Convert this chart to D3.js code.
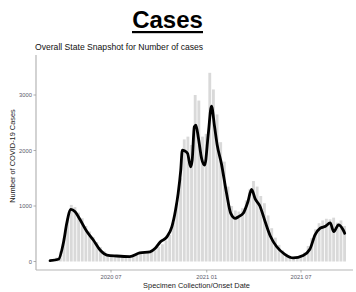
<!DOCTYPE html>
<html>
<head>
<meta charset="utf-8">
<script src="https://cdn.jsdelivr.net/npm/d3@7"></script>
<style>
html,body{margin:0;padding:0;background:#fff;}
svg{display:block;font-family:"Liberation Sans",Arial,sans-serif;}
</style>
</head>
<body>
<svg id="chart" width="356" height="292"></svg>
<script>
// ---- data ----
const titleText = "Cases";
const subtitleText = "Overall State Snapshot for Number of cases";
const xTitle = "Specimen Collection/Onset Date";
const yTitle = "Number of COVID-19 Cases";

const yTicks = [0, 1000, 2000, 3000];
const xTickDates = ["2020-07-01", "2021-01-01", "2021-07-01"];
const xTickLabels = ["2020 07", "2021 01", "2021 07"];

// weekly bars (week start, daily count)
const barWeeks = ["2020-03-02","2020-03-09","2020-03-16","2020-03-23","2020-03-30","2020-04-06","2020-04-13","2020-04-20","2020-04-27","2020-05-04","2020-05-11","2020-05-18","2020-05-25","2020-06-01","2020-06-08","2020-06-15","2020-06-22","2020-06-29","2020-07-06","2020-07-13","2020-07-20","2020-07-27","2020-08-03","2020-08-10","2020-08-17","2020-08-24","2020-08-31","2020-09-07","2020-09-14","2020-09-21","2020-09-28","2020-10-05","2020-10-12","2020-10-19","2020-10-26","2020-11-02","2020-11-09","2020-11-16","2020-11-23","2020-11-30","2020-12-07","2020-12-14","2020-12-21","2020-12-28","2021-01-04","2021-01-11","2021-01-18","2021-01-25","2021-02-01","2021-02-08","2021-02-15","2021-02-22","2021-03-01","2021-03-08","2021-03-15","2021-03-22","2021-03-29","2021-04-05","2021-04-12","2021-04-19","2021-04-26","2021-05-03","2021-05-10","2021-05-17","2021-05-24","2021-05-31","2021-06-07","2021-06-14","2021-06-21","2021-06-28","2021-07-05","2021-07-12","2021-07-19","2021-07-26","2021-08-02","2021-08-09","2021-08-16","2021-08-23","2021-08-30","2021-09-06","2021-09-13","2021-09-20"];
const barValues = [15,30,70,180,420,780,1020,980,880,780,640,540,440,350,260,190,140,120,115,110,105,100,100,110,130,160,180,190,200,230,260,310,380,480,700,1050,1500,2200,2250,2100,3000,2900,2250,2300,3400,3100,2650,2150,1800,1350,1000,920,900,960,1100,1300,1450,1350,1180,1050,830,600,430,300,200,140,100,85,85,105,160,280,420,580,690,740,770,760,790,700,740,640];

// 7-day average line
const lineDates = ["2020-03-06","2020-03-22","2020-04-01","2020-04-07","2020-04-15","2020-04-23","2020-05-03","2020-05-15","2020-05-28","2020-06-10","2020-06-23","2020-07-12","2020-08-06","2020-08-25","2020-09-14","2020-09-24","2020-10-04","2020-10-16","2020-10-26","2020-11-02","2020-11-07","2020-11-12","2020-11-15","2020-11-19","2020-11-25","2020-12-01","2020-12-04","2020-12-08","2020-12-11","2020-12-16","2020-12-22","2020-12-28","2021-01-04","2021-01-10","2021-01-16","2021-01-21","2021-01-29","2021-02-08","2021-02-16","2021-02-25","2021-03-03","2021-03-12","2021-03-21","2021-03-28","2021-04-04","2021-04-13","2021-04-23","2021-05-03","2021-05-15","2021-05-31","2021-06-16","2021-07-05","2021-07-18","2021-07-28","2021-08-07","2021-08-17","2021-08-26","2021-09-02","2021-09-11","2021-09-20","2021-09-23"];
const lineValues = [15,40,357,688,940,897,747,549,387,207,117,99,87,155,175,238,357,440,627,927,1228,1648,2008,1995,1948,1707,1828,2427,2458,2219,1858,1738,2309,2800,2427,2100,1768,1228,868,778,807,868,1077,1300,1130,1000,720,460,270,130,65,110,220,480,600,635,695,537,660,567,508];

// ---- drawing ----
const parse = d3.timeParse("%Y-%m-%d");
const svg = d3.select("#chart");

const x = d3.scaleTime()
  .domain([parse("2020-07-01"), parse("2021-07-01")])
  .range([111, 301]);
const y = d3.scaleLinear().domain([0, 3000]).range([261.5, 95]);

const panel = {left: 36, right: 353, top: 55, bottom: 270};

// title
svg.append("text")
  .attr("x", 167.5).attr("y", 28)
  .attr("text-anchor", "middle")
  .attr("font-size", 24).attr("font-weight", "bold")
  .attr("fill", "#000")
  .text(titleText);
svg.append("rect")
  .attr("x", 132).attr("y", 31).attr("width", 71).attr("height", 2.2)
  .attr("fill", "#000");

svg.append("text")
  .attr("x", 35).attr("y", 49.5)
  .attr("font-size", 8.6)
  .attr("fill", "#111")
  .text(subtitleText);

// bars
const bars = barWeeks.map((w, i) => ({d: parse(w), v: barValues[i]}));
svg.append("g").selectAll("rect").data(bars).join("rect")
  .attr("x", d => x(d.d))
  .attr("width", d => Math.max(0.5, x(d3.timeDay.offset(d.d, 7)) - x(d.d) - 0.8))
  .attr("y", d => y(d.v))
  .attr("height", d => y(0) - y(d.v))
  .attr("fill", "#d9d9d9");

// axes lines
svg.append("line")
  .attr("x1", panel.left).attr("x2", panel.left)
  .attr("y1", panel.top).attr("y2", panel.bottom)
  .attr("stroke", "#b5b5b5").attr("stroke-width", 1.2);
svg.append("line")
  .attr("x1", panel.left).attr("x2", panel.right)
  .attr("y1", panel.bottom).attr("y2", panel.bottom)
  .attr("stroke", "#b5b5b5").attr("stroke-width", 1.2);

// y ticks
const yAxis = svg.append("g");
yTicks.forEach(v => {
  yAxis.append("line")
    .attr("x1", panel.left - 2.5).attr("x2", panel.left)
    .attr("y1", y(v)).attr("y2", y(v))
    .attr("stroke", "#999").attr("stroke-width", 0.8);
  yAxis.append("text")
    .attr("x", panel.left - 4).attr("y", y(v) + 2)
    .attr("text-anchor", "end")
    .attr("font-size", 5.8).attr("fill", "#5a5a6a")
    .text(v);
});

// x ticks
const xAxis = svg.append("g");
xTickDates.forEach((ds, i) => {
  const px = x(parse(ds));
  xAxis.append("line")
    .attr("x1", px).attr("x2", px)
    .attr("y1", panel.bottom).attr("y2", panel.bottom + 2.5)
    .attr("stroke", "#999").attr("stroke-width", 0.8);
  xAxis.append("text")
    .attr("x", px).attr("y", panel.bottom + 9)
    .attr("text-anchor", "middle")
    .attr("font-size", 5.8).attr("fill", "#5a5a6a")
    .text(xTickLabels[i]);
});

// axis titles
svg.append("text")
  .attr("x", 196.5).attr("y", 287.5)
  .attr("text-anchor", "middle")
  .attr("font-size", 7.4).attr("fill", "#222")
  .text(xTitle);
svg.append("text")
  .attr("transform", "translate(14.5,156) rotate(-90)")
  .attr("text-anchor", "middle")
  .attr("font-size", 7.4).attr("fill", "#222")
  .text(yTitle);

// line
const pts = lineDates.map((ds, i) => ({d: parse(ds), v: lineValues[i]}));
svg.append("path")
  .datum(pts)
  .attr("fill", "none")
  .attr("stroke", "#000")
  .attr("stroke-width", 2.8)
  .attr("stroke-linejoin", "round")
  .attr("stroke-linecap", "round")
  .attr("d", d3.line().x(d => x(d.d)).y(d => y(d.v)).curve(d3.curveMonotoneX));
</script>
</body>
</html>
